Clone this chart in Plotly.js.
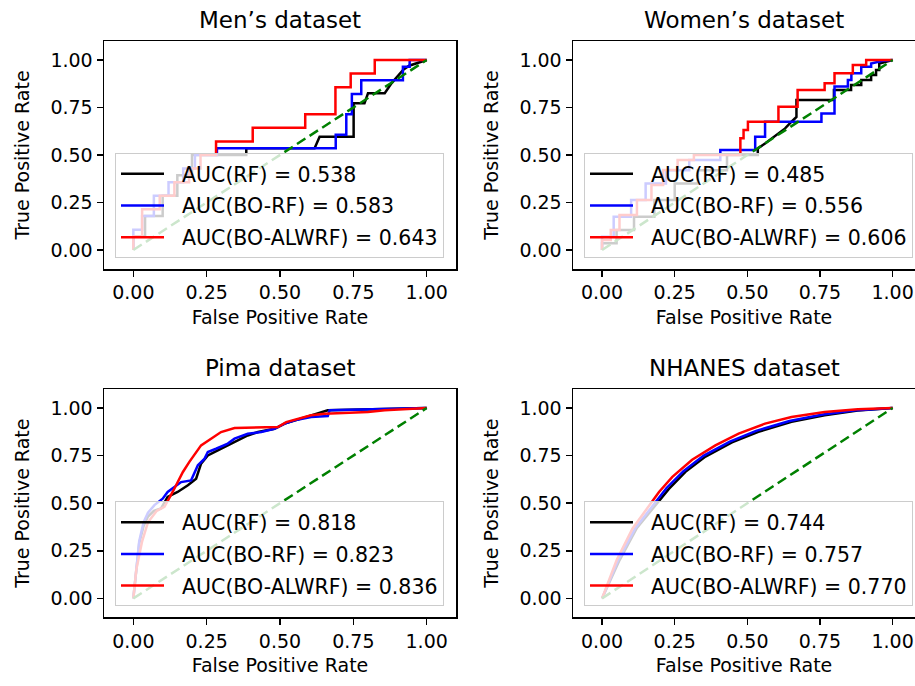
<!DOCTYPE html>
<html>
<head>
<meta charset="utf-8">
<script src="https://cdn.plot.ly/plotly-3.0.1.min.js"></script>
<style>html,body{margin:0;padding:0;background:#fff;}#chart{width:915px;height:686px;}</style>
</head>
<body>
<div id="chart"></div>
<script>
// ---------- Data ----------
const titles = ['Men\u2019s dataset', 'Women\u2019s dataset', 'Pima dataset', 'NHANES dataset'];
const modelNames = ['AUC(RF)', 'AUC(BO-RF)', 'AUC(BO-ALWRF)'];
const tickVals = [0, 0.25, 0.5, 0.75, 1];
const tickText = ['0.00', '0.25', '0.50', '0.75', '1.00'];

// AUC values per dataset: [RF, BO-RF, BO-ALWRF]
const aucMen = ['0.538', '0.583', '0.643'];
const aucWomen = ['0.485', '0.556', '0.606'];
const aucPima = ['0.818', '0.823', '0.836'];
const aucNhanes = ['0.744', '0.757', '0.770'];

// Men's dataset
const menRF_fpr = [0, 0, 0.04, 0.04, 0.10, 0.10, 0.15, 0.15, 0.20, 0.20, 0.385, 0.385, 0.618, 0.635, 0.751, 0.751, 0.788, 0.80, 0.857, 0.88, 0.919, 0.94, 1];
const menRF_tpr = [0, 0.071, 0.071, 0.179, 0.179, 0.286, 0.286, 0.393, 0.393, 0.5, 0.5, 0.536, 0.536, 0.596, 0.596, 0.772, 0.772, 0.825, 0.825, 0.877, 0.947, 0.97, 1];
const menBORF_fpr = [0, 0, 0.03, 0.03, 0.07, 0.07, 0.12, 0.12, 0.17, 0.17, 0.21, 0.21, 0.285, 0.285, 0.69, 0.69, 0.726, 0.726, 0.745, 0.745, 0.777, 0.777, 0.919, 0.919, 0.942, 0.942, 1];
const menBORF_tpr = [0, 0.107, 0.107, 0.179, 0.179, 0.286, 0.286, 0.357, 0.357, 0.429, 0.429, 0.5, 0.5, 0.536, 0.536, 0.607, 0.607, 0.714, 0.714, 0.821, 0.821, 0.893, 0.893, 0.964, 0.964, 1, 1];
const menALW_fpr = [0, 0, 0.03, 0.03, 0.09, 0.09, 0.14, 0.14, 0.19, 0.19, 0.229, 0.229, 0.282, 0.282, 0.407, 0.407, 0.586, 0.586, 0.689, 0.689, 0.741, 0.741, 0.823, 0.823, 1];
const menALW_tpr = [0, 0.071, 0.071, 0.214, 0.214, 0.286, 0.286, 0.357, 0.357, 0.429, 0.429, 0.5, 0.5, 0.571, 0.571, 0.643, 0.643, 0.714, 0.714, 0.857, 0.857, 0.929, 0.929, 1, 1];

// Women's dataset
const womRF_fpr = [0, 0, 0.05, 0.05, 0.11, 0.11, 0.18, 0.18, 0.25, 0.25, 0.33, 0.33, 0.43, 0.43, 0.536, 0.536, 0.561, 0.584, 0.607, 0.63, 0.652, 0.669, 0.669, 0.798, 0.798, 0.857, 0.857, 0.892, 0.892, 0.926, 0.926, 0.943, 0.943, 0.954, 0.954, 1];
const womRF_tpr = [0, 0.035, 0.035, 0.105, 0.105, 0.175, 0.175, 0.263, 0.263, 0.35, 0.35, 0.42, 0.42, 0.5, 0.5, 0.535, 0.561, 0.588, 0.614, 0.64, 0.675, 0.70, 0.789, 0.789, 0.842, 0.842, 0.868, 0.868, 0.895, 0.895, 0.921, 0.921, 0.947, 0.947, 0.982, 1];
const womBORF_fpr = [0, 0, 0.04, 0.04, 0.10, 0.10, 0.15, 0.15, 0.22, 0.22, 0.30, 0.30, 0.407, 0.407, 0.527, 0.527, 0.561, 0.561, 0.755, 0.755, 0.80, 0.80, 0.846, 0.846, 0.858, 0.858, 0.892, 0.892, 0.926, 0.926, 0.966, 1];
const womBORF_tpr = [0, 0.07, 0.07, 0.175, 0.175, 0.263, 0.263, 0.35, 0.35, 0.42, 0.42, 0.474, 0.474, 0.526, 0.526, 0.596, 0.596, 0.675, 0.675, 0.719, 0.719, 0.86, 0.86, 0.895, 0.895, 0.93, 0.93, 0.965, 0.965, 0.982, 0.996, 1];
const womALW_fpr = [0, 0, 0.03, 0.03, 0.06, 0.06, 0.12, 0.12, 0.17, 0.17, 0.21, 0.21, 0.26, 0.26, 0.316, 0.316, 0.476, 0.476, 0.487, 0.487, 0.502, 0.502, 0.607, 0.607, 0.673, 0.673, 0.766, 0.766, 0.80, 0.80, 0.863, 0.863, 0.909, 0.909, 1];
const womALW_tpr = [0, 0.053, 0.053, 0.105, 0.105, 0.184, 0.184, 0.263, 0.263, 0.342, 0.342, 0.421, 0.421, 0.474, 0.474, 0.5, 0.5, 0.588, 0.588, 0.632, 0.632, 0.675, 0.675, 0.754, 0.754, 0.842, 0.842, 0.877, 0.877, 0.93, 0.93, 0.974, 0.974, 1, 1];

// Pima dataset
const pimaRF_fpr = [0, 0.01, 0.02, 0.035, 0.05, 0.07, 0.094, 0.117, 0.151, 0.186, 0.214, 0.231, 0.254, 0.288, 0.345, 0.39, 0.425, 0.481, 0.516, 0.572, 0.629, 0.663, 1];
const pimaRF_tpr = [0, 0.16, 0.29, 0.38, 0.43, 0.46, 0.472, 0.533, 0.559, 0.594, 0.629, 0.708, 0.751, 0.778, 0.821, 0.856, 0.874, 0.891, 0.918, 0.944, 0.97, 0.988, 1];
const pimaBORF_fpr = [0, 0.01, 0.02, 0.035, 0.05, 0.072, 0.1, 0.117, 0.163, 0.197, 0.22, 0.243, 0.254, 0.282, 0.322, 0.345, 0.39, 0.436, 0.481, 0.516, 0.55, 0.606, 0.663, 0.669, 0.8, 1];
const pimaBORF_tpr = [0, 0.17, 0.3, 0.4, 0.45, 0.49, 0.524, 0.559, 0.611, 0.62, 0.699, 0.734, 0.769, 0.786, 0.813, 0.839, 0.865, 0.874, 0.891, 0.918, 0.935, 0.953, 0.958, 0.988, 0.993, 1];
const pimaALW_fpr = [0, 0.01, 0.03, 0.05, 0.08, 0.106, 0.134, 0.169, 0.191, 0.231, 0.265, 0.299, 0.345, 0.493, 0.521, 0.561, 0.606, 0.652, 0.8, 0.857, 1];
const pimaALW_tpr = [0, 0.15, 0.3, 0.4, 0.46, 0.481, 0.559, 0.664, 0.717, 0.804, 0.839, 0.874, 0.895, 0.9, 0.926, 0.944, 0.962, 0.97, 0.979, 0.988, 1];

// NHANES dataset
const nhRF_fpr = [0, 0.06, 0.12, 0.185, 0.23, 0.287, 0.356, 0.447, 0.538, 0.652, 0.766, 0.88, 1];
const nhRF_tpr = [0, 0.2, 0.37, 0.49, 0.575, 0.665, 0.745, 0.82, 0.875, 0.928, 0.962, 0.987, 1];
const nhBORF_fpr = [0, 0.055, 0.115, 0.178, 0.222, 0.28, 0.35, 0.44, 0.53, 0.645, 0.76, 0.88, 1];
const nhBORF_tpr = [0, 0.2, 0.37, 0.49, 0.58, 0.668, 0.75, 0.824, 0.88, 0.932, 0.966, 0.989, 1];
const nhALW_fpr = [0, 0.05, 0.105, 0.162, 0.196, 0.242, 0.31, 0.39, 0.47, 0.561, 0.652, 0.766, 0.88, 1];
const nhALW_tpr = [0, 0.2, 0.367, 0.49, 0.559, 0.638, 0.728, 0.804, 0.866, 0.918, 0.953, 0.979, 0.993, 1];

const diagX = [0, 1];
const diagY = [0, 1];

// ---------- Build figure ----------
const FONT = 'DejaVu Sans, sans-serif';
const colors = ['#000000', '#0000ff', '#ff0000'];
const panels = [
  {auc: aucMen, curves: [[menRF_fpr, menRF_tpr], [menBORF_fpr, menBORF_tpr], [menALW_fpr, menALW_tpr]]},
  {auc: aucWomen, curves: [[womRF_fpr, womRF_tpr], [womBORF_fpr, womBORF_tpr], [womALW_fpr, womALW_tpr]]},
  {auc: aucPima, curves: [[pimaRF_fpr, pimaRF_tpr], [pimaBORF_fpr, pimaBORF_tpr], [pimaALW_fpr, pimaALW_tpr]]},
  {auc: aucNhanes, curves: [[nhRF_fpr, nhRF_tpr], [nhBORF_fpr, nhBORF_tpr], [nhALW_fpr, nhALW_tpr]]}
];

const W = 915, H = 686;
const colX = [[104, 456], [573, 915]];
const colRange = [[-0.1, 1.1], [-0.1, 1.077]];
const rowY = [[41, 269], [389, 617.4]];

const data = [];
const layout = {
  width: W, height: H,
  margin: {l: 0, r: 0, t: 0, b: 0},
  paper_bgcolor: '#ffffff', plot_bgcolor: '#ffffff',
  font: {family: FONT, color: '#000000', size: 19},
  showlegend: true,
  annotations: []
};

panels.forEach((p, i) => {
  const row = Math.floor(i / 2), col = i % 2;
  const n = i + 1;
  const xa = 'x' + (n === 1 ? '' : n), ya = 'y' + (n === 1 ? '' : n);
  const legName = 'legend' + (n === 1 ? '' : n);
  p.curves.forEach((c, k) => {
    data.push({
      type: 'scatter', mode: 'lines', x: c[0], y: c[1],
      xaxis: xa, yaxis: ya,
      name: '\u00a0\u00a0' + modelNames[k] + ' = ' + p.auc[k],
      legend: legName, legendgroup: 'g' + n + '_' + k,
      line: {color: colors[k], width: 2.5},
      hoverinfo: 'skip'
    });
  });
  data.push({
    type: 'scatter', mode: 'lines', x: diagX, y: diagY,
    xaxis: xa, yaxis: ya, showlegend: false, legend: legName,
    line: {color: '#008000', width: 2.5, dash: '10px,5px'},
    hoverinfo: 'skip'
  });

  const axCommon = {
    tickvals: tickVals, ticktext: tickText,
    ticks: 'outside', ticklen: 6, tickwidth: 1.5, tickcolor: '#000',
    showline: true, linecolor: '#000', linewidth: 1.5,
    showgrid: false, zeroline: false,
    tickfont: {size: 19, family: FONT, color: '#000'},
    fixedrange: true
  };
  layout['xaxis' + (n === 1 ? '' : n)] = Object.assign({}, axCommon, {
    domain: [colX[col][0] / W, colX[col][1] / W],
    anchor: ya, range: colRange[col], mirror: true,
    title: {text: 'False Positive Rate', font: {size: 19, family: FONT}, standoff: 8}
  });
  layout['yaxis' + (n === 1 ? '' : n)] = Object.assign({}, axCommon, {
    domain: [1 - rowY[row][1] / H, 1 - rowY[row][0] / H],
    anchor: xa, range: [-0.1, 1.1], mirror: col === 0,
    title: {text: 'True Positive Rate', font: {size: 19, family: FONT}, standoff: 15}
  });
  layout[legName] = {
    x: (colX[col][0] + 11) / W, xanchor: 'left',
    y: 1 - (rowY[row][1] - 11) / H, yanchor: 'bottom',
    bgcolor: 'rgba(255,255,255,0.8)', bordercolor: '#cccccc', borderwidth: 1,
    font: {size: 20.5, family: FONT, color: '#000'},
    itemwidth: 43, tracegroupgap: 2, traceorder: 'grouped'
  };
  layout.annotations.push({
    text: titles[i], showarrow: false,
    xref: xa + ' domain', yref: ya + ' domain', x: 0.5, y: 1,
    xanchor: 'center', yanchor: 'bottom', yshift: 6,
    font: {size: 23, family: FONT, color: '#000'}
  });
});

Plotly.newPlot('chart', data, layout, {displayModeBar: false, staticPlot: true});
</script>
</body>
</html>
